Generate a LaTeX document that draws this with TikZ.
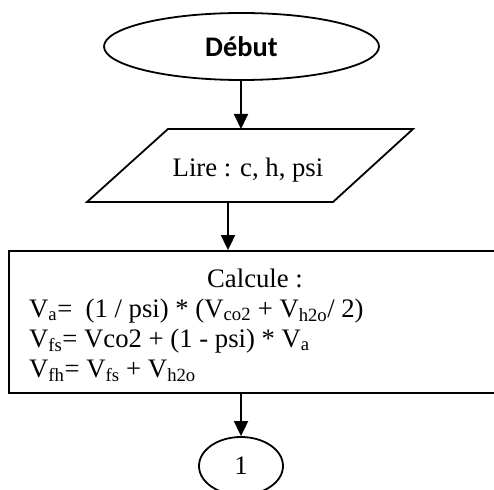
\documentclass[tikz,border=0pt]{standalone}
\usepackage{fontspec}
\setmainfont{Liberation Serif}
\newfontfamily\calib{Carlito}
\usetikzlibrary{shapes.geometric,arrows.meta}
\tikzset{
  flow/.style={line width=1.8bp,draw=black},
  arr/.style={flow,-{Triangle[length=15bp,width=14bp]}},
  txt/.style={inner sep=0pt,font=\fontsize{26.8}{30}\selectfont},
}
\begin{document}
\begin{tikzpicture}[x=1bp,y=-1bp]
\useasboundingbox (0,0) rectangle (494,490);
\clip (0,0) rectangle (494,490);
\fill[white] (0,0) rectangle (494,490);
% start
\node[flow,ellipse,minimum width=275bp,minimum height=67bp,inner sep=0pt,
  font=\calib\bfseries\fontsize{28.5}{30}\selectfont] (debut) at (241.5,46.5) {Début};
% input parallelogram
\coordinate (p1) at (87,202);
\coordinate (p2) at (168,129);
\coordinate (p3) at (413,129);
\coordinate (p4) at (333,202);
\draw[flow,line join=miter] (p1) -- (p2) -- (p3) -- (p4) -- cycle;
\node[txt,anchor=base] (lire) at (248,177) {Lire : c, h, psi};
\coordinate (lireTop) at (241,129);
\coordinate (lireBot) at (228,202);
% process
\node[flow,rectangle,minimum width=511bp,minimum height=142bp,inner sep=0pt] (calc) at (264.5,322) {};
\node[txt,anchor=base] (ct) at (255,287) {Calcule :};
\node[txt,anchor=base west] (l1) at (29,317) {V\textsubscript{a}=\ \ (1 / psi) * (V\textsubscript{co2} + V\textsubscript{h2o}/ 2)};
\node[txt,anchor=base west] (l2) at (29,347) {V\textsubscript{fs}= Vco2 + (1 - psi) * V\textsubscript{a}};
\node[txt,anchor=base west] (l3) at (29,377) {V\textsubscript{fh}= V\textsubscript{fs} + V\textsubscript{h2o}};
% connector
\node[flow,ellipse,minimum width=84bp,minimum height=58bp,inner sep=0pt,
  font=\fontsize{26.8}{30}\selectfont] (one) at (241,466) {1};
% arrows
\draw[arr] (debut.south -| lireTop) -- (lireTop);
\draw[arr] (lireBot) -- (lireBot |- calc.north);
\draw[arr] (calc.south -| one.north) -- (one.north);
\end{tikzpicture}
\end{document}
